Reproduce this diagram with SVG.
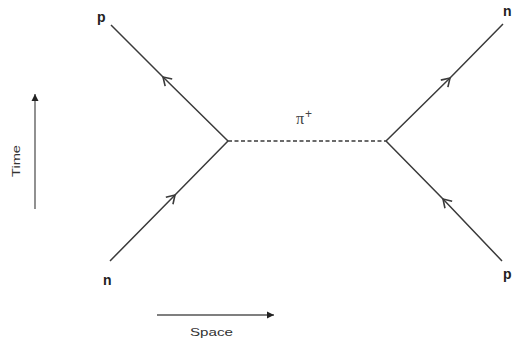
<svg xmlns="http://www.w3.org/2000/svg" width="513" height="344" viewBox="0 0 513 344">
<style>
.ln{fill:none;stroke:#3a3a3a;stroke-width:1.5}
.dash{fill:none;stroke:#3a3a3a;stroke-width:1.3;stroke-dasharray:4,2.5}
.ax{fill:none;stroke:#555;stroke-width:1.3}
.lbl{font-family:"Liberation Sans",Arial,sans-serif;font-weight:bold;font-size:14px;fill:#222}
.ax-t{font-family:"Liberation Sans",Arial,sans-serif;font-size:11px;fill:#333}
.pi{font-family:"Liberation Serif","Times New Roman",serif;font-size:16px;fill:#444}
.sup{font-family:"Liberation Sans",Arial,sans-serif;font-size:12px}
</style>
<defs>
<marker id="chev" markerUnits="userSpaceOnUse" markerWidth="14" markerHeight="14" refX="0" refY="0" viewBox="-10 -7 14 14" orient="auto" overflow="visible">
<path d="M-8,-5 L0,0 L-8,5" fill="none" stroke="#3a3a3a" stroke-width="1.6"/>
</marker>
<marker id="tri" markerUnits="userSpaceOnUse" markerWidth="10" markerHeight="10" refX="0" refY="0" viewBox="-8 -5 10 10" orient="auto" overflow="visible">
<path d="M-7,-3.5 L0,0 L-7,3.5 Z" fill="#222"/>
</marker>
</defs>
<g id="connectors">
<path id="p-out" class="ln" d="M228,141 L163,77 L111,25" marker-mid="url(#chev)"/>
<path id="n-in" class="ln" d="M110,261 L175,195 L228,141" marker-mid="url(#chev)"/>
<path id="n-out" class="ln" d="M386,141 L450,78 L503,24" marker-mid="url(#chev)"/>
<path id="p-in" class="ln" d="M502,261 L443,199 L386,141" marker-mid="url(#chev)"/>
<path id="pion" class="dash" d="M228,141 L386,141"/>
<path id="time-axis" class="ax" d="M35,209 L35,94" marker-end="url(#tri)"/>
<path id="space-axis" class="ax" d="M157,315 L274,315" marker-end="url(#tri)"/>
</g>
<g id="node-p-top"><text class="lbl" x="97" y="22">p</text></g>
<g id="node-n-bottom"><text class="lbl" x="103" y="285">n</text></g>
<g id="node-n-top"><text class="lbl" x="503" y="16">n</text></g>
<g id="node-p-bottom"><text class="lbl" x="503" y="279">p</text></g>
<g id="label-pion"><text class="pi" x="296" y="124">π<tspan class="sup" dx="1" dy="-6">+</tspan></text></g>
<g id="label-time"><text class="ax-t" transform="translate(20,177) rotate(-90)" textLength="32" lengthAdjust="spacingAndGlyphs">Time</text></g>
<g id="label-space"><text class="ax-t" x="190" y="336" textLength="43" lengthAdjust="spacingAndGlyphs">Space</text></g>
</svg>
